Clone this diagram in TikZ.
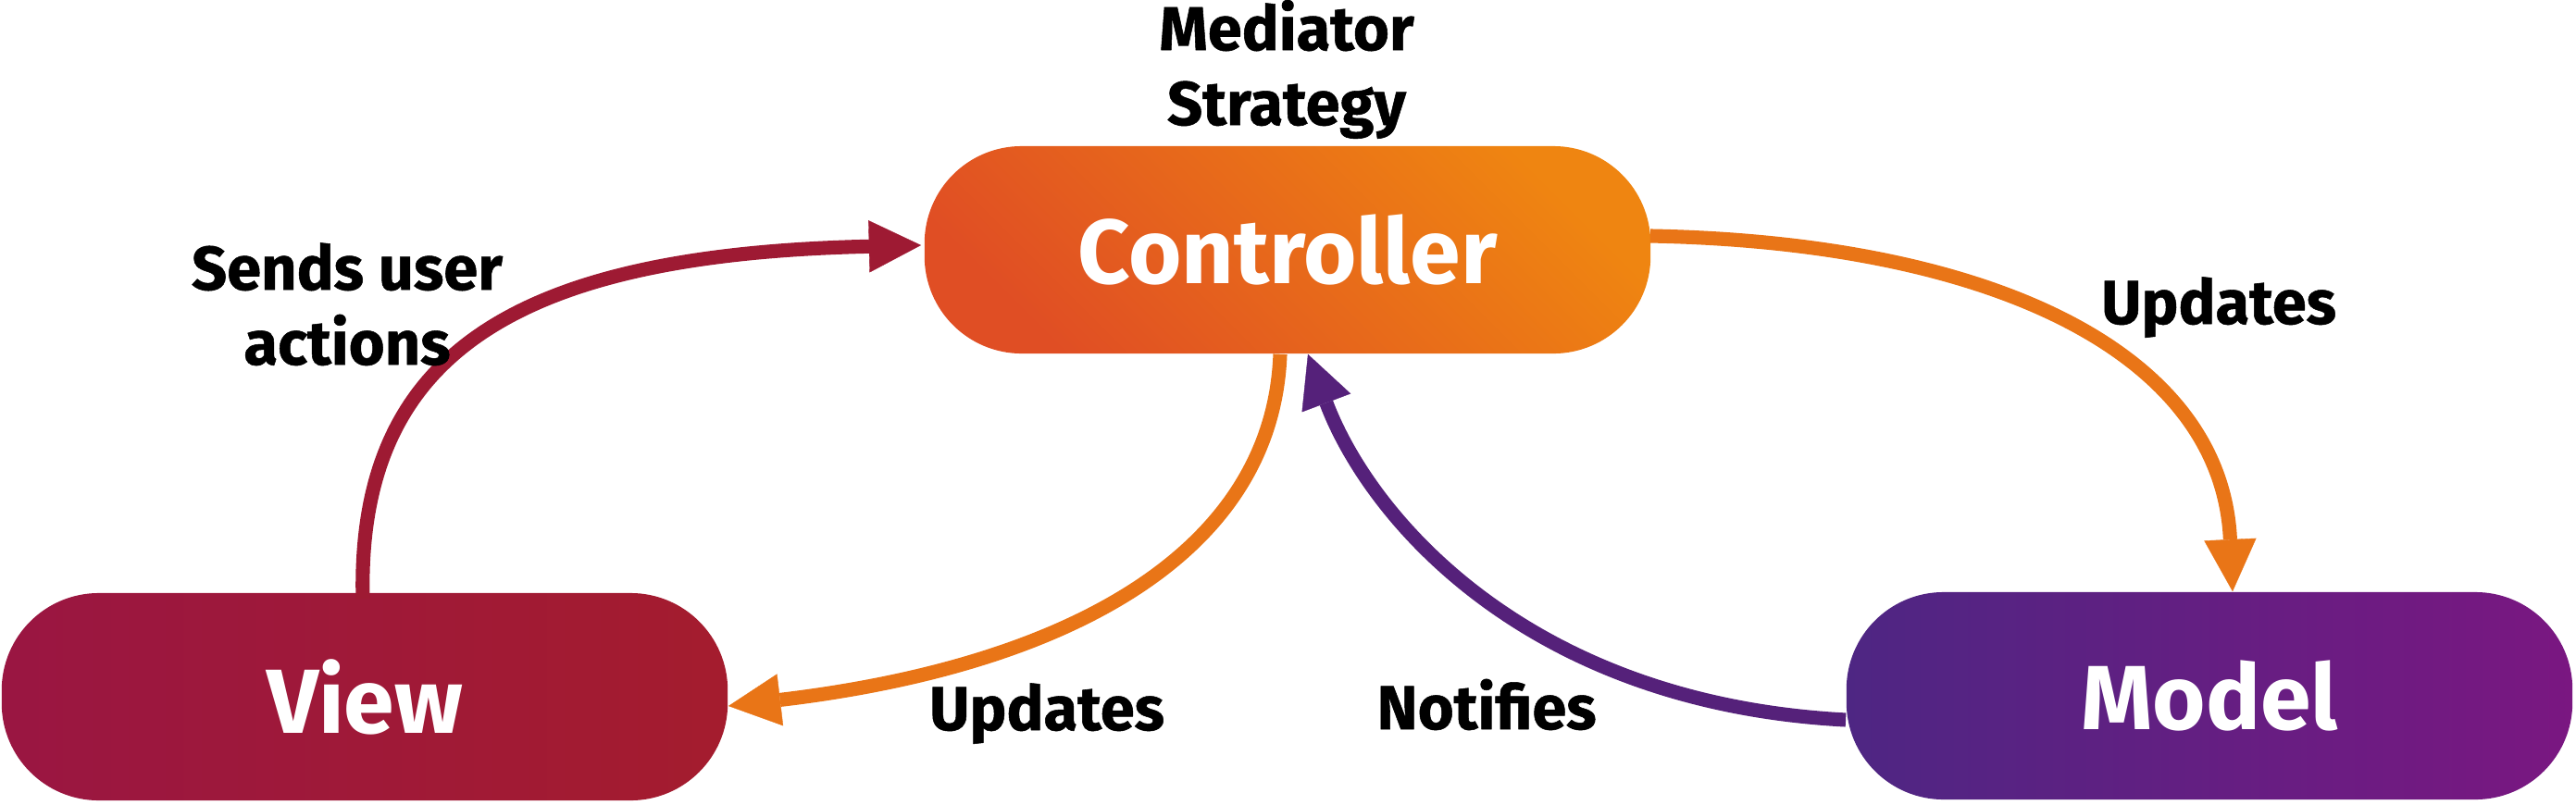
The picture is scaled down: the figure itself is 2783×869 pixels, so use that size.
\documentclass[tikz,border=0pt]{standalone}
\usepackage{fontspec}
\setmainfont{Fira Sans}
\newfontfamily\lblfont{Fira Sans}[FakeBold=0.8]
\usetikzlibrary{arrows.meta,calc}
\definecolor{ctrlA}{HTML}{E04E24}
\definecolor{ctrlB}{HTML}{EF8511}
\definecolor{viewA}{HTML}{9A1642}
\definecolor{viewB}{HTML}{A41C2E}
\definecolor{modelA}{HTML}{4E2683}
\definecolor{modelB}{HTML}{7A1781}
\definecolor{crim}{HTML}{9E1A33}
\definecolor{orng}{HTML}{E97517}
\definecolor{purp}{HTML}{55217A}
\begin{document}
\begin{tikzpicture}[x=0.01cm,y=-0.01cm,
  box/.style={minimum width=7.84cm, minimum height=2.24cm, rounded corners=1.05cm,
    inner sep=0pt, text=white, font=\bfseries\fontsize{28}{34}\selectfont},
  lbl/.style={font=\lblfont\bfseries\fontsize{19}{23}\selectfont, align=center, inner sep=0pt},
  conn/.style={draw=#1, line width=4.3pt, -{Triangle[length=16pt,width=16pt,line width=0.1pt,fill=#1,color=#1]}}]
\useasboundingbox (0,0) rectangle (2783,869);
\node[box, left color=ctrlA, right color=ctrlB, shading angle=135] (controller) at (1391,270) {Controller};
\node[box, left color=viewA, right color=viewB] (view) at (394,753) {View};
\node[box, left color=modelA, right color=modelB] (model) at (2387,752) {Model};
\draw[conn=crim] ($(view.north)+(-2,7)$) .. controls (385,380) and (560,275) .. ($(controller.west)+(-3,-5)$);
\draw[conn=orng] ($(controller.east)+(-1,-15)$) .. controls (2150,262) and (2400,380) .. ($(model.north)+(25,0)$);
\draw[conn=orng] ($(controller.south)+(-8,0)$) .. controls (1375,600) and (1150,720) .. ($(view.east)+(0,10)$);
\draw[conn=purp] ($(model.west)+(0,26)$) .. controls (1650,760) and (1480,560) .. ($(controller.south)+(22,0)$);
\node[lbl, anchor=base] (mediator) at (1390,135) {Mediator\\Strategy};
\node[lbl, anchor=base] (sends) at (375,394) {Sends user\\actions};
\node[lbl, anchor=base] (upd1) at (2397,350) {Updates};
\node[lbl, anchor=base] (upd2) at (1131,789) {Updates};
\node[lbl, anchor=base] (notif) at (1606,788) {Notifies};
\end{tikzpicture}
\end{document}
